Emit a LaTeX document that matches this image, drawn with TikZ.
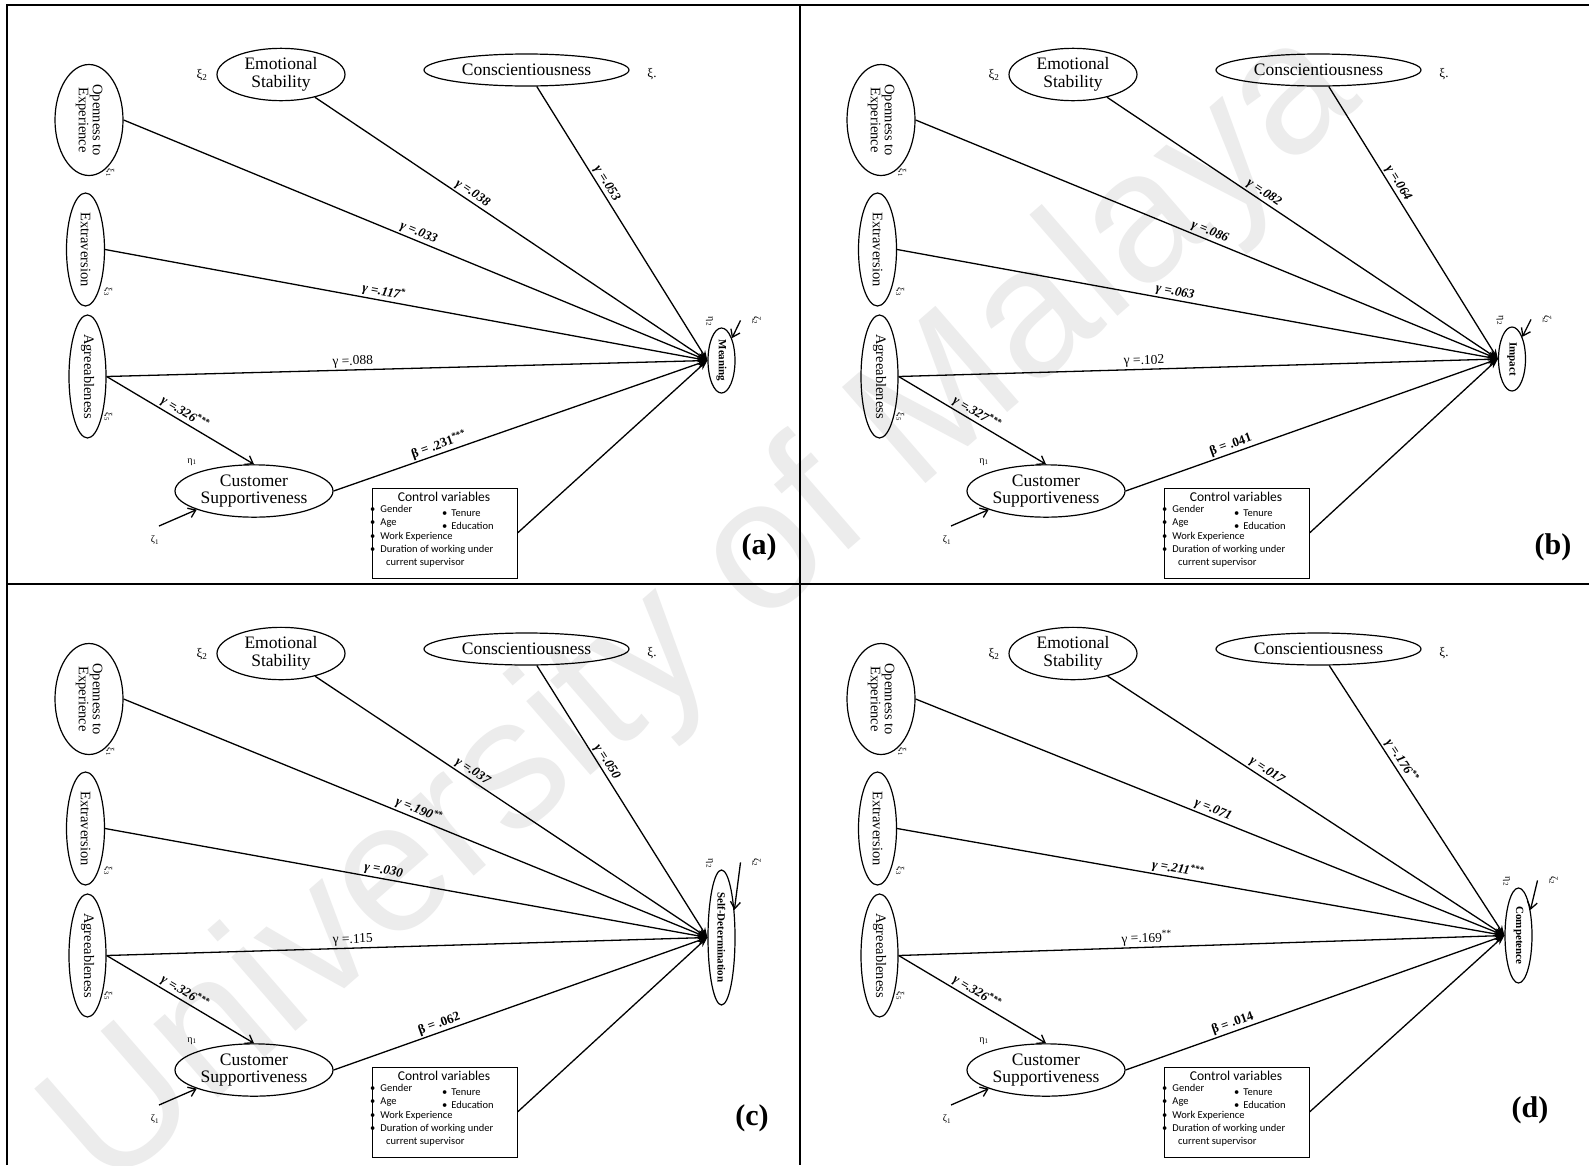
\documentclass[tikz,border=0pt]{standalone}
\usepackage{fontspec}
\setmainfont{Liberation Serif}
\newfontfamily\calib{Carlito}
\newfontfamily\wmfont{Liberation Sans}
\usetikzlibrary{arrows.meta,shapes.geometric,calc}

\newcommand\bigtxt{\fontsize{17.5}{19.5}\selectfont}
\newcommand\midtxt{\fontsize{14.5}{16}\selectfont}
\newcommand\tgttxt{\fontsize{11}{12}\selectfont\bfseries}
\definecolor{wm}{RGB}{236,236,236}

\tikzset{
  lat/.style={ellipse, draw, line width=1.2pt, inner sep=0pt},
  reg/.style={line width=1.3pt, -{Stealth[length=10pt,width=7pt]}},
  barb/.style={line width=1.3pt, -{Straight Barb[length=7pt,width=10pt]}},
  coef/.style={sloped, above=0.5pt, inner sep=1pt, font=\fontsize{13}{14}\selectfont\bfseries\itshape},
  coefb/.style={sloped, above=0.5pt, inner sep=1pt, font=\fontsize{13}{14}\selectfont\bfseries},
  coefup/.style={sloped, above=0.5pt, inner sep=1pt, font=\fontsize{13.5}{14}\selectfont},
  greek/.style={inner sep=0pt, font=\fontsize{13}{14}\selectfont},
  small greek/.style={inner sep=0pt, font=\fontsize{10}{11}\selectfont},
  tiny greek/.style={inner sep=0pt, rotate=-90, font=\fontsize{9.5}{10}\selectfont},
  cvbox/.style={draw, line width=1pt, minimum width=145, minimum height=90, inner sep=0pt},
  cvtitle/.style={inner sep=0pt, font=\calib\fontsize{13.5}{14}\selectfont},
  cvitem/.style={inner sep=0pt, anchor=west, font=\calib\fontsize{10.5}{12}\selectfont},
  letter/.style={inner sep=0pt, font=\bfseries\fontsize{30}{32}\selectfont},
  frame/.style={line width=2.2pt},
}

% One structural model panel.
% #1 name prefix, #2 x shift, #3 y shift, #4 outcome name, #5 outcome ellipse height, #6 outcome centre
\newcommand{\sempanel}[6]{%
\begin{scope}[shift={(#2,#3)}]
  % personality traits
  \node[lat, minimum width=128, minimum height=52, font=\bigtxt] (#1-es) at (281,74.5)
    {\begin{tabular}{@{}c@{}}Emotional\\[-2pt]Stability\end{tabular}};
  \node[lat, minimum width=205, minimum height=32, font=\bigtxt] (#1-co) at (526.5,70) {Conscientiousness};
  \node[lat, minimum width=68, minimum height=111, font=\midtxt] (#1-oe) at (89,120)
    {\rotatebox{-90}{\begin{tabular}{@{}c@{}}Openness to\\[-2pt]Experience\end{tabular}}};
  \node[lat, minimum width=38, minimum height=113, font=\midtxt] (#1-ex) at (85.5,249.5) {\rotatebox{-90}{Extraversion}};
  \node[lat, minimum width=37, minimum height=123, font=\midtxt] (#1-ag) at (87.5,376.5) {\rotatebox{-90}{Agreeableness}};
  % mediator and outcome
  \node[lat, minimum width=158, minimum height=52, font=\bigtxt] (#1-cs) at (254,491)
    {\begin{tabular}{@{}c@{}}Customer\\[-2pt]Supportiveness\end{tabular}};
  \node[lat, minimum width=27, minimum height=#5, font=\tgttxt] (#1-t) at (#6) {\rotatebox{-90}{#4}};
  % control variables
  \node[cvbox] (#1-cv) at (444.5,533) {};
  \node[cvtitle] (#1-cvt) at (444,497) {Control variables};
  \node[cvitem] (#1-cv1) at (370,509) {\textbullet\hspace{5pt}Gender};
  \node[cvitem] (#1-cv2) at (370,523) {\textbullet\hspace{5pt}Age};
  \node[cvitem] (#1-cv3) at (370,537) {\textbullet\hspace{5pt}Work Experience};
  \node[cvitem] (#1-cv4) at (370,550) {\textbullet\hspace{5pt}Duration of working under};
  \node[cvitem] (#1-cv5) at (386,563) {current supervisor};
  \node[cvitem] (#1-cv6) at (442,513) {\textbullet\hspace{4pt}Tenure};
  \node[cvitem] (#1-cv7) at (442,526) {\textbullet\hspace{4pt}Education};
  % symbols
  \node[greek] (#1-xi2) at (202,75) {ξ\textsubscript{2}};
  \node[greek] (#1-xi4) at (652,74) {ξ.};
  \node[tiny greek] (#1-xi1) at (110,173) {ξ\textsubscript{1}};
  \node[tiny greek] (#1-xi3) at (108,292) {ξ\textsubscript{3}};
  \node[tiny greek] (#1-xi5) at (108,417) {ξ\textsubscript{5}};
  \node[small greek] (#1-eta1) at (192,462) {η\textsubscript{1}};
  \node[small greek] (#1-zeta1) at (155,540) {ζ\textsubscript{1}};
  \coordinate (#1-z1s) at (159,526);
  \draw[barb] (#1-z1s) -- (#1-cs.198);
  \node[small greek, rotate=-90] (#1-eta2) at ($(#1-t.north)+(-12,-6)$) {η\textsubscript{2}};
  \coordinate (#1-z2s) at ($(#1-t.north)+(19,-7)$);
  \draw[barb] (#1-z2s) -- (#1-t.65);
  \node[small greek, rotate=-90] (#1-zeta2) at ($(#1-t.north)+(35,-7)$) {ζ\textsubscript{2}};
  % structural paths
  \draw[reg] (#1-co) -- node[coef, pos=.37] {\lC} (#1-t.west);
  \draw[reg] (#1-es) -- node[coef, pos=.39] {\lES} (#1-t.west);
  \draw[reg] (#1-oe.east) -- node[coef, pos=.5] {\lOE} (#1-t.west);
  \draw[reg] (#1-ex.east) -- node[coef, pos=.46] {\lEX} (#1-t.west);
  \draw[reg] (#1-ag.east) -- node[coefup, pos=.41] {\lAG} (#1-t.west);
  \draw[barb] (#1-ag.east) -- node[coef, pos=.5] {\lAC} (#1-cs.north);
  \draw[reg] (#1-cs.east) -- node[coefb, pos=.29] {\lB} (#1-t.west);
  \draw[reg] (#1-cv.east) -- (#1-t.west);
\end{scope}}

\begin{document}
\begin{tikzpicture}[x=1pt, y=-1pt]
  \useasboundingbox (0,0) rectangle (1589,1165);
  \fill[white] (0,0) rectangle (1589,1165);
  % watermark
  \node[rotate=41, text=wm, inner sep=0pt, font=\wmfont\fontsize{185}{185}\selectfont] (wmark) at (705,612) {University of Malaya};
  % frame
  \coordinate (f-bl) at (7,1165);
  \coordinate (f-tl) at (7,5);
  \coordinate (f-tr) at (1589,5);
  \coordinate (f-mt) at (800,5);
  \coordinate (f-mb) at (800,1165);
  \coordinate (f-ml) at (7,584);
  \coordinate (f-mr) at (1589,584);
  \draw[frame] (f-bl) -- (f-tl) -- (f-tr);
  \draw[frame] (f-mt) -- (f-mb);
  \draw[frame] (f-ml) -- (f-mr);

  % (a) Meaning
  \def\lC{γ =.053}\def\lES{γ =.038}\def\lOE{γ =.033}\def\lEX{γ =.117\textsuperscript{*}}%
  \def\lAG{γ =.088}\def\lAC{γ =.326\textsuperscript{***}}\def\lB{β = .231\textsuperscript{***}}%
  \sempanel{a}{0}{0}{Meaning}{65}{721.5,360.5}
  % (b) Impact
  \def\lC{γ =.064}\def\lES{γ =.082}\def\lOE{γ =.086}\def\lEX{γ =.063}%
  \def\lAG{γ =.102}\def\lAC{γ =.327\textsuperscript{***}}\def\lB{β = .041}%
  \sempanel{b}{792}{0}{Impact}{64}{720,359}
  % (c) Self-Determination
  \def\lC{γ =.050}\def\lES{γ =.037}\def\lOE{γ =.190\textsuperscript{**}}\def\lEX{γ =.030}%
  \def\lAG{γ =.115}\def\lAC{γ =.326\textsuperscript{***}}\def\lB{β = .062}%
  \sempanel{c}{0}{579}{Self-Determination}{135}{721.5,358.5}
  % (d) Competence
  \def\lC{γ =.176\textsuperscript{**}}\def\lES{γ =.017}\def\lOE{γ =.071}\def\lEX{γ =.211\textsuperscript{***}}%
  \def\lAG{γ =.169\textsuperscript{**}}\def\lAC{γ =.326\textsuperscript{***}}\def\lB{β = .014}%
  \sempanel{d}{792}{579}{Competence}{95}{726.5,356.5}

  % panel letters
  \node[letter] (lab-a) at (759,547) {(a)};
  \node[letter] (lab-b) at (1553,547) {(b)};
  \node[letter] (lab-c) at (752,1118) {(c)};
  \node[letter] (lab-d) at (1530,1110) {(d)};
\end{tikzpicture}
\end{document}
